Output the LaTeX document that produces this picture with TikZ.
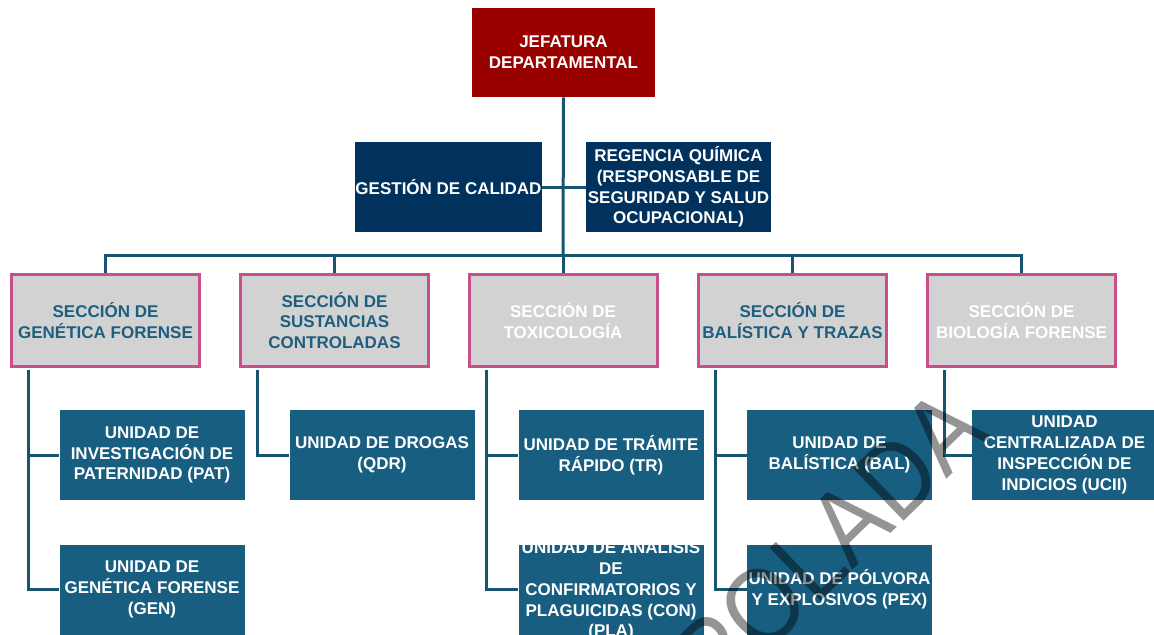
\documentclass[tikz,border=0pt]{standalone}
\usepackage{fontspec}
\setmainfont{Liberation Sans}
\definecolor{jefred}{RGB}{153,0,0}
\definecolor{navy}{RGB}{1,50,94}
\definecolor{unitblue}{RGB}{24,94,128}
\definecolor{secgray}{RGB}{210,210,210}
\definecolor{secpink}{RGB}{200,80,138}
\definecolor{sectext}{RGB}{30,95,128}
\definecolor{linecol}{RGB}{22,84,112}
\tikzset{
  lbl/.style={font=\bfseries\fontsize{12.75pt}{15.6pt}\selectfont, align=center, inner sep=0pt, text=white},
  headbox/.style={lbl, fill=jefred, minimum width=137.25pt, minimum height=66.75pt},
  navybox/.style={lbl, fill=navy, minimum width=138.75pt, minimum height=67.5pt},
  secbox/.style={lbl, fill=secgray, draw=secpink, line width=2.25pt, minimum width=141pt, minimum height=69pt},
  darksec/.style={secbox, text=sectext},
  unitbox/.style={lbl, fill=unitblue, minimum width=138.75pt, minimum height=67.5pt},
  conn/.style={draw=linecol, line width=2.25pt},
  stamp/.style={font=\fontsize{80pt}{80pt}\selectfont, text=black, opacity=0.42, rotate=44, anchor=base east, inner sep=0pt}
}
\begin{document}
\begin{tikzpicture}[x=0.75pt, y=-0.75pt]
\useasboundingbox (0,0) rectangle (1154,635);
\clip (0,0) rectangle (1154,635);

% top of the chart
\node[headbox] (jef) at (563.5,52.5) {JEFATURA\\DEPARTAMENTAL};
\node[navybox] (ges) at (448.5,187) {GESTIÓN DE CALIDAD};
\node[navybox] (reg) at (678.5,187) {REGENCIA QUÍMICA\\(RESPONSABLE DE\\SEGURIDAD Y SALUD\\OCUPACIONAL)};
\coordinate (bus) at (563,255);

% sections
\node[darksec] (gen) at (105.5,320.5) {SECCIÓN DE\\GENÉTICA FORENSE};
\node[darksec] (sus) at (334.5,320.5) {SECCIÓN DE\\SUSTANCIAS\\CONTROLADAS};
\node[secbox]  (tox) at (563,320.5) {SECCIÓN DE\\TOXICOLOGÍA};
\node[darksec] (bal) at (792.5,320.5) {SECCIÓN DE\\BALÍSTICA Y TRAZAS};
\node[secbox]  (bio) at (1021.5,320.5) {SECCIÓN DE\\BIOLOGÍA FORENSE};

% units
\node[unitbox] (pat) at (152,455) {UNIDAD DE\\INVESTIGACIÓN DE\\PATERNIDAD (PAT)};
\node[unitbox] (gun) at (152,589.5) {UNIDAD DE\\GENÉTICA FORENSE\\(GEN)};
\node[unitbox] (qdr) at (382,455) {UNIDAD DE DROGAS\\(QDR)};
\node[unitbox] (tr)  at (611,455) {UNIDAD DE TRÁMITE\\RÁPIDO (TR)};
\node[unitbox] (ana) at (611,589.5) {};
\begin{scope}
  \clip (ana.south west) rectangle (ana.north east);
  \node[lbl] (anatext) at (ana.center) {UNIDAD DE ANÁLISIS\\DE\\CONFIRMATORIOS Y\\PLAGUICIDAS (CON)\\(PLA)};
\end{scope}
\node[unitbox] (bu)  at (839.5,455) {UNIDAD DE\\BALÍSTICA (BAL)};
\node[unitbox] (pex) at (839.5,589.5) {UNIDAD DE PÓLVORA\\Y EXPLOSIVOS (PEX)};
\node[unitbox] (uci) at (1064.5,455) {UNIDAD\\CENTRALIZADA DE\\INSPECCIÓN DE\\INDICIOS (UCII)};

% connectors
\draw[conn] (jef.south) -- (bus);
\draw[conn] (ges.east) -- (reg.west);
\draw[conn] (gen.north) |- (bus) -| (bio.north);
\draw[conn] (sus.north) -- (sus.north |- bus);
\draw[conn] (tox.north) -- (bus);
\draw[conn] (bal.north) -- (bal.north |- bus);

\coordinate (gent) at ([xshift=-57.75pt, yshift=-1.2pt]gen.south);
\coordinate (sust) at ([xshift=-57.75pt, yshift=-1.2pt]sus.south);
\coordinate (toxt) at ([xshift=-57.75pt, yshift=-1.2pt]tox.south);
\coordinate (balt) at ([xshift=-57.75pt, yshift=-1.2pt]bal.south);
\coordinate (biot) at ([xshift=-57.75pt, yshift=-1.2pt]bio.south);
\draw[conn] (gent) |- (pat.west);
\draw[conn] (gent) |- (gun.west);
\draw[conn] (sust) |- (qdr.west);
\draw[conn] (toxt) |- (tr.west);
\draw[conn] (toxt) |- (ana.west);
\draw[conn] (balt) |- (bu.west);
\draw[conn] (balt) |- (pex.west);
\draw[conn] (biot) |- (uci.west);

% watermark
\node[stamp] (marca) at (992,436) {\scalebox{0.88}[1]{CONTROLADA}};
\end{tikzpicture}
\end{document}
